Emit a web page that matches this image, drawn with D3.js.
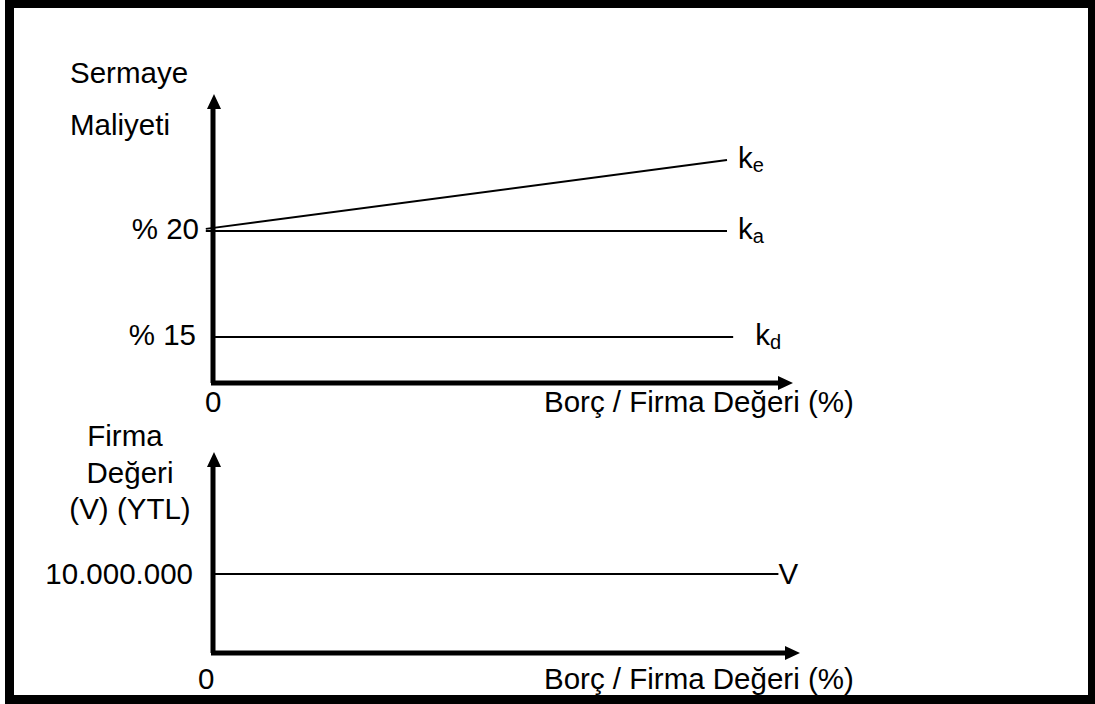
<!DOCTYPE html>
<html>
<head>
<meta charset="utf-8">
<script src="https://cdn.jsdelivr.net/npm/d3@7"></script>
<style>
  body { margin: 0; background: #fff; }
  text { font-family: "Liberation Sans", Arial, sans-serif; fill: #000; }
</style>
</head>
<body>
<div class="canvas"></div>
<script>
// data
const costLabels = ['% 20', '% 15'];
const costTicks = [20, 15];
const costSeries = ['ke', 'ka', 'kd'];
const costStart = [[-1.4, 20.1], [-1.4, 20], [0.4, 15]];
const costEnd = [[100, 23.35], [100, 20], [101.2, 15]];
const valueTicks = [10000000];
const valueTickLabels = ['10.000.000'];
const valueSeries = [[0, 10000000], [110, 10000000]];
const xLabel = 'Borç / Firma Değeri (%)';

const dims = {width: 1095, height: 704};
const fs = 29.5;

const svg = d3.select('.canvas').append('svg')
  .attr('width', dims.width)
  .attr('height', dims.height);

// frame
svg.append('rect')
  .attr('x', 9.5).attr('y', 3.5)
  .attr('width', 1083).attr('height', 696)
  .attr('fill', 'none').attr('stroke', '#000').attr('stroke-width', 9);

// scales
const x = d3.scaleLinear().domain([0, 100]).range([213, 727]);
const yCost = d3.scaleLinear().domain([15, 20]).range([337, 231]);
const yVal = d3.scaleLinear().domain([0, 10000000]).range([653, 574]);

const line = d3.line();

// axis with arrow head
const drawAxis = (x0, y0, x1, y1) => {
  svg.append('path')
    .attr('d', line([[x0, y0], [x1, y1]]))
    .attr('stroke', '#000').attr('stroke-width', 5).attr('fill', 'none');
};
const arrowUp = (cx, tip) => {
  svg.append('path')
    .attr('d', line([[cx, tip], [cx - 7, tip + 15], [cx + 7, tip + 15]]) + 'Z')
    .attr('fill', '#000');
};
const arrowRight = (tip, cy) => {
  svg.append('path')
    .attr('d', line([[tip, cy], [tip - 15, cy - 7], [tip - 15, cy + 7]]) + 'Z')
    .attr('fill', '#000');
};

// ---------- top chart ----------
const topBase = yCost(12.83);
drawAxis(x(0), topBase, x(0), 108);
arrowUp(x(0) + 1, 94);
drawAxis(x(0) - 2, topBase, 780, topBase);
arrowRight(793, topBase);

const costG = svg.append('g');
costSeries.forEach((s, i) => {
  costG.append('path')
    .attr('d', line([costStart[i], costEnd[i]].map(d => [x(d[0]), yCost(d[1])])))
    .attr('stroke', '#000').attr('stroke-width', 2).attr('fill', 'none');
  const t = costG.append('text')
    .attr('x', x(costEnd[i][0]) + (i === 2 ? 22 : 11))
    .attr('y', yCost(costEnd[i][1]) + 8)
    .attr('font-size', fs);
  t.append('tspan').text('k');
  t.append('tspan').attr('font-size', 20).attr('dy', 4).text(s[1]);
});

costLabels.forEach((l, i) => {
  svg.append('text')
    .attr('x', i === 0 ? 199 : 196)
    .attr('y', yCost(costTicks[i]) + 8)
    .attr('text-anchor', 'end')
    .attr('font-size', fs)
    .text(l);
});

svg.append('text').attr('x', 70).attr('y', 83).attr('font-size', fs).text('Sermaye');
svg.append('text').attr('x', 70).attr('y', 135).attr('font-size', fs).text('Maliyeti');
svg.append('text').attr('x', 205).attr('y', 412).attr('font-size', fs).text('0');
svg.append('text').attr('x', 544).attr('y', 412).attr('font-size', fs).text(xLabel);

// ---------- bottom chart ----------
drawAxis(x(0), yVal(0), x(0), 465);
arrowUp(x(0) + 1, 452);
drawAxis(x(0) - 2, yVal(0), 787, yVal(0));
arrowRight(800, yVal(0));

svg.append('path')
  .attr('d', line(valueSeries.map(d => [x(d[0]), yVal(d[1])])))
  .attr('stroke', '#000').attr('stroke-width', 2).attr('fill', 'none');
svg.append('text')
  .attr('x', x(valueSeries[1][0]))
  .attr('y', yVal(valueSeries[1][1]) + 10)
  .attr('font-size', fs).text('V');

valueTickLabels.forEach((l, i) => {
  svg.append('text')
    .attr('x', 193)
    .attr('y', yVal(valueTicks[i]) + 10)
    .attr('text-anchor', 'end')
    .attr('font-size', fs)
    .text(l);
});

['Firma', 'Değeri', '(V) (YTL)'].forEach((l, i) => {
  svg.append('text')
    .attr('x', i === 0 ? 125 : 130)
    .attr('y', 446 + i * 36.5)
    .attr('text-anchor', 'middle')
    .attr('font-size', fs)
    .text(l);
});

svg.append('text').attr('x', 198).attr('y', 689).attr('font-size', fs).text('0');
svg.append('text').attr('x', 544).attr('y', 689).attr('font-size', fs).text(xLabel);
</script>
</body>
</html>
